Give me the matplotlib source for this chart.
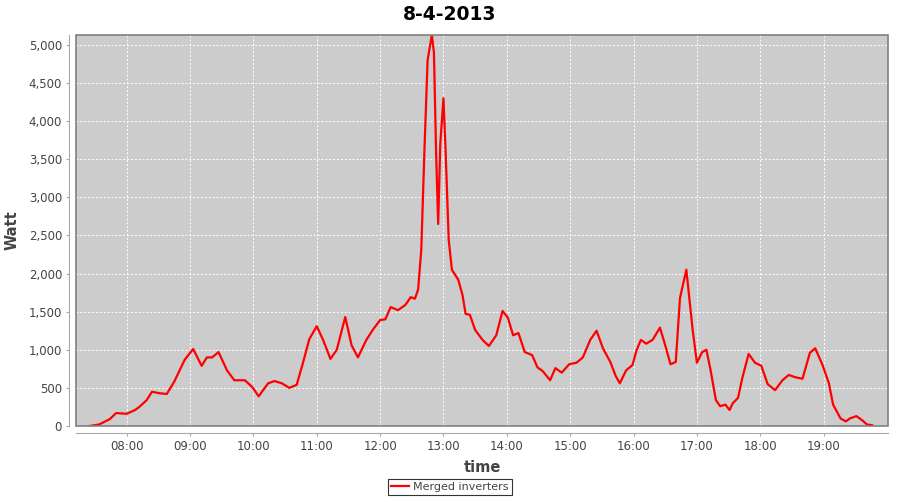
import datetime as dt
import matplotlib
matplotlib.use('Agg')
import matplotlib.pyplot as plt
import matplotlib.dates as mdates
from matplotlib.patches import Rectangle
from matplotlib.ticker import FuncFormatter, MultipleLocator

# readings of the merged inverters on 8-4-2013 (time, watt)
times = ['07:25', '07:34', '07:44', '07:50', '08:00', '08:08', '08:12', '08:19', '08:24', '08:31',
         '08:38', '08:45', '08:55', '09:03', '09:11', '09:16', '09:21', '09:27', '09:35', '09:42',
         '09:52', '09:59', '10:05', '10:14', '10:20', '10:27', '10:34', '10:41', '10:47', '10:53',
         '11:00', '11:06', '11:13', '11:19', '11:27', '11:33', '11:39', '11:47', '11:53', '12:00',
         '12:05', '12:10', '12:17', '12:24', '12:29', '12:33', '12:36', '12:39', '12:42', '12:45',
         '12:49', '12:51', '12:53', '12:55', '12:57', '13:00', '13:02', '13:05', '13:08', '13:14',
         '13:18', '13:21', '13:25', '13:30', '13:37', '13:43', '13:50', '13:56', '14:01', '14:06',
         '14:11', '14:17', '14:24', '14:29', '14:34', '14:41', '14:46', '14:52', '14:59', '15:06',
         '15:12', '15:19', '15:25', '15:31', '15:38', '15:43', '15:47', '15:53', '15:59', '16:03',
         '16:07', '16:12', '16:18', '16:25', '16:30', '16:35', '16:40', '16:44', '16:50', '16:56',
         '17:00', '17:05', '17:09', '17:13', '17:18', '17:22', '17:27', '17:31', '17:34', '17:39',
         '17:43', '17:49', '17:55', '18:01', '18:07', '18:14', '18:21', '18:27', '18:33', '18:40',
         '18:47', '18:52', '18:59', '19:05', '19:09', '19:16', '19:21', '19:25', '19:31', '19:37',
         '19:41', '19:46']
watts = [0, 20, 90, 170, 160, 210, 250, 340, 450, 430,
         420, 580, 870, 1010, 790, 900, 900, 970, 730, 600,
         600, 510, 390, 560, 590, 560, 500, 540, 830, 1140,
         1310, 1130, 880, 1000, 1430, 1060, 900, 1130, 1260, 1390,
         1400, 1560, 1520, 1590, 1690, 1670, 1790, 2310, 3620, 4800,
         5130, 4900, 3600, 2650, 3700, 4300, 3620, 2440, 2050, 1920,
         1720, 1470, 1460, 1260, 1130, 1050, 1190, 1510, 1420, 1190,
         1220, 970, 930, 770, 720, 600, 760, 700, 810, 830,
         900, 1130, 1250, 1020, 840, 660, 560, 730, 800, 1000,
         1130, 1080, 1130, 1290, 1060, 810, 840, 1680, 2050, 1260,
         830, 970, 1000, 730, 340, 260, 280, 210, 300, 370,
         630, 945, 830, 790, 550, 470, 600, 670, 640, 620,
         960, 1020, 800, 560, 280, 100, 60, 100, 130, 70,
         20, 10]

day = dt.date(2013, 4, 8)
x = [dt.datetime.combine(day, dt.datetime.strptime(t, '%H:%M').time()) for t in times]

fig = plt.figure(figsize=(9, 5), dpi=100)
ax = fig.add_axes([0.0844, 0.148, 0.9023, 0.782])
ax.set_facecolor('#cccccc')

ax.plot(x, watts, color='#ff0000', lw=1.6, label='Merged inverters', zorder=3)

ax.set_xlim(dt.datetime(2013, 4, 8, 7, 12), dt.datetime(2013, 4, 8, 20, 1))
ax.set_ylim(0, 5130)
ax.xaxis.set_major_locator(mdates.HourLocator(byhour=range(8, 20)))
ax.xaxis.set_major_formatter(mdates.DateFormatter('%H:%M'))
ax.yaxis.set_major_locator(MultipleLocator(500))
ax.yaxis.set_major_formatter(FuncFormatter(lambda v, p: f'{int(v):,}'))
ax.grid(True, color='white', ls=(0, (2, 2)), lw=0.7)
ax.set_axisbelow(True)

# offset axis lines like the original, plot border drawn separately
for s in ['top', 'right']:
    ax.spines[s].set_visible(False)
for s in ['left', 'bottom']:
    ax.spines[s].set_position(('outward', 5))
    ax.spines[s].set_color('#a8a8a8')
ax.add_patch(Rectangle((0, 0), 1, 1, transform=ax.transAxes, fill=False,
                       ec='#808080', lw=1.2, zorder=4, clip_on=False))

ax.tick_params(length=2, width=0.8, color='#a8a8a8', labelsize=8.5, labelcolor='#444444', pad=3)

fig.text(0.5, 0.972, '8-4-2013', fontsize=13.5, fontweight='bold', ha='center', va='center')
ax.set_xlabel('time', fontsize=10.5, fontweight='bold', color='#444444')
ax.set_ylabel('Watt', fontsize=10.5, fontweight='bold', color='#444444')
ax.xaxis.set_label_coords(0.5, -0.087)
ax.yaxis.set_label_coords(-0.069, 0.5)

leg = fig.legend(loc='center', bbox_to_anchor=(0.5, 0.026), fontsize=8, frameon=True,
                 fancybox=False, handlelength=1.6, handletextpad=0.4, borderpad=0.3)
leg.get_frame().set_edgecolor('black')
leg.get_frame().set_linewidth(0.8)
for t in leg.get_texts():
    t.set_color('#444444')

fig.savefig('out.png', dpi=100)
